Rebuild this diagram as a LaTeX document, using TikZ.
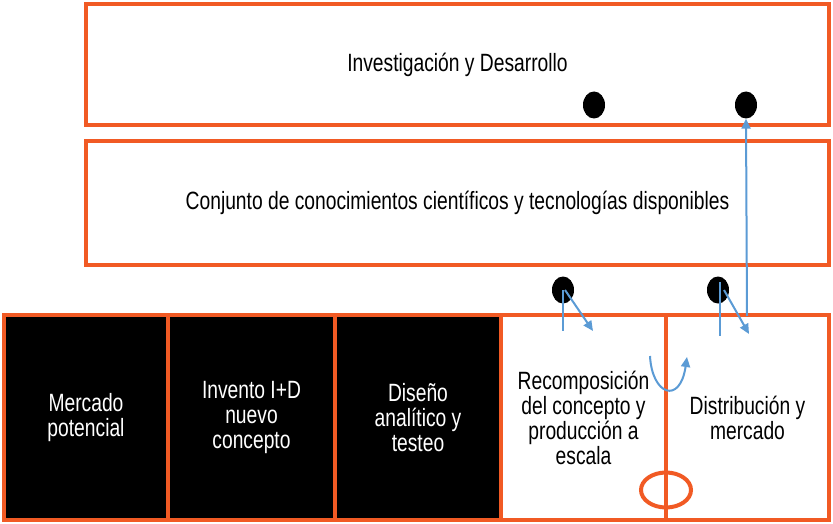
\documentclass[tikz,border=0pt]{standalone}
\usepackage{fontspec}
\setmainfont[FakeStretch=0.77]{Liberation Sans}
\usetikzlibrary{arrows.meta,shapes.geometric}
\definecolor{orng}{HTML}{F15A24}
\definecolor{blu}{HTML}{5B9BD5}
\begin{document}
\begin{tikzpicture}[x=1pt,y=-1pt,
  box/.style={draw=orng,line width=4.5pt,rectangle,inner sep=0pt,align=center,font=\fontsize{25}{25}\selectfont},
  darkbox/.style={box,fill=black,text=white},
  lightbox/.style={box,fill=white,text=black},
  dot/.style={ellipse,fill=black,minimum width=22pt,minimum height=27pt,inner sep=0pt},
  bl/.style={draw=blu,line width=2pt},
  arr/.style={bl,-{Triangle[length=10pt,width=9pt]}}]
\useasboundingbox (0,0) rectangle (833,524);
% top boxes
\node[lightbox,minimum width=743pt,minimum height=121pt] (rd) at (457.5,64.5) {Investigación y Desarrollo};
\node[lightbox,minimum width=743pt,minimum height=124pt] (cc) at (457.5,203) {Conjunto de conocimientos científicos y tecnologías disponibles};
% bottom row
\node[darkbox,minimum width=164pt,minimum height=205pt] (m1) at (86,417.5) {Mercado\\potencial};
\node[darkbox,minimum width=167pt,minimum height=205pt] (m2) at (251.5,417.5) {Invento I+D\\nuevo\\concepto};
\node[darkbox,minimum width=166pt,minimum height=205pt] (m3) at (418,417.5) {Diseño\\analítico y\\testeo};
\node[lightbox,minimum width=165pt,minimum height=205pt] (m4) at (583.5,417.5) {Recomposición\\del concepto y\\producción a\\escala};
\node[lightbox,minimum width=163pt,minimum height=205pt] (m5) at (747.5,417.5) {Distribución y\\mercado};
% ellipse
\node[ellipse,draw=orng,line width=4pt,minimum width=50pt,minimum height=35pt] (ring) at (666,490) {};
% dots
\node[dot] (d1) at (594,105) {};
\node[dot] (d2) at (746,105) {};
\node[dot] (d3) at (563,290) {};
\node[dot] (d4) at (718,290) {};
% blue connectors
\coordinate (e1) at (563,331);
\coordinate (e2) at (593,331);
\coordinate (e3) at (720,336);
\coordinate (e4) at (749,334);
\coordinate (e5) at (747,316);
\coordinate (c1) at (650,356);
\coordinate (c2) at (687,357);
\draw[bl] (d3.center) -- (e1);
\draw[arr] ([xshift=2pt]d3.center) -- (e2);
\draw[bl] ([xshift=2pt,yshift=8pt]d4.center) -- (e3);
\draw[arr] ([xshift=6pt]d4.center) -- (e4);
\draw[arr] (e5) -- (d2.south);
\draw[arr] (c1) .. controls (652,395) and (680,405) .. (c2);
\end{tikzpicture}
\end{document}
